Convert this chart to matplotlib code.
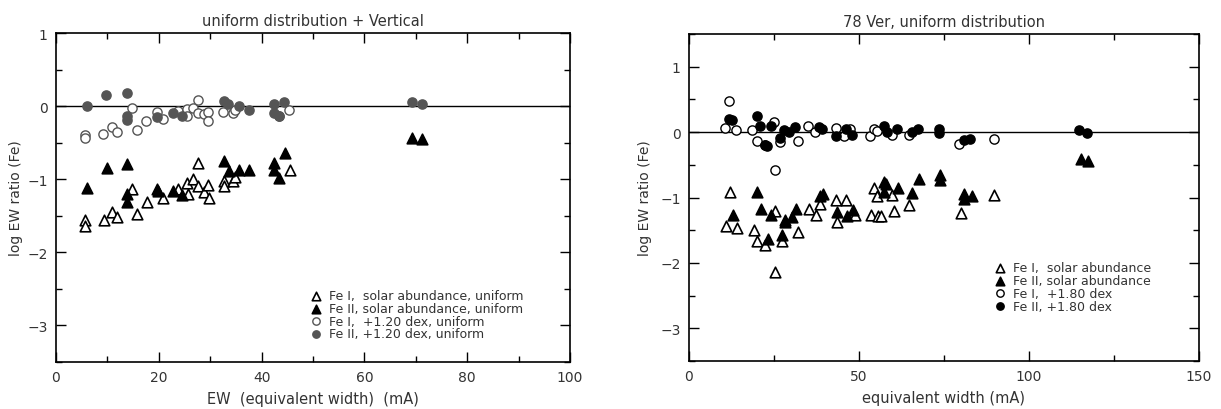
import matplotlib.pyplot as plt
from matplotlib.ticker import MultipleLocator

plt.rcParams['font.family'] = ['DejaVu Sans']

# left panel: uniform distribution + vertical
l_fe1_ew = [5.6, 5.6, 9.3, 10.8, 11.8, 14.8, 15.8, 17.8, 20.8, 23.7, 25.5, 26.6, 27.7, 27.7,
            25.7, 28.7, 29.6, 29.8, 32.6, 32.6, 34.5, 34.9, 45.5]
l_fe1_sol = [-1.56, -1.64, -1.56, -1.45, -1.52, -1.13, -1.47, -1.31, -1.26, -1.14, -1.05, -1.0,
             -0.78, -1.09, -1.2, -1.18, -1.08, -1.25, -1.03, -1.09, -1.02, -0.97, -0.87]
l_fe2_ew = [6.0, 9.9, 13.8, 13.8, 13.8, 19.7, 19.9, 22.7, 24.6, 32.6, 33.7, 35.6, 37.6,
            42.4, 42.4, 43.3, 44.6, 69.2, 71.3]
l_fe2_sol = [-1.12, -0.84, -0.79, -1.2, -1.31, -1.14, -1.16, -1.16, -1.21, -0.75, -0.89, -0.87,
             -0.87, -0.78, -0.87, -0.99, -0.64, -0.43, -0.45]
l_fe1_ew_hi = [5.6, 5.6, 9.2, 10.8, 11.8, 14.7, 15.7, 17.6, 19.6, 20.8, 23.8, 25.4, 25.5, 26.6,
               27.6, 27.6, 28.7, 29.6, 29.6, 32.4, 34.4, 34.9, 45.4]
l_fe1_hi = [-0.40, -0.44, -0.38, -0.28, -0.35, -0.02, -0.33, -0.21, -0.08, -0.17, -0.07, -0.04,
            -0.14, -0.02, 0.09, -0.10, -0.11, -0.08, -0.20, -0.08, -0.09, -0.05, -0.05]
l_fe2_ew_hi = [6.0, 9.7, 13.8, 13.8, 13.8, 19.6, 22.7, 24.6, 32.6, 33.5, 35.6, 37.5, 42.4, 42.4,
               43.3, 44.4, 43.4, 69.2, 71.2]
l_fe2_hi = [0.0, 0.15, 0.18, -0.13, -0.19, -0.15, -0.10, -0.14, 0.07, 0.03, 0.0, -0.05, 0.03,
            -0.09, -0.14, 0.05, -0.13, 0.06, 0.03]

# right panel: 78 Ver, uniform distribution
r_fe1_ew = [12.0, 11.0, 14.0, 19.1, 20.1, 22.3, 25.3, 25.3, 27.3, 32.2, 35.3, 37.3, 38.4, 43.3,
            43.4, 46.3, 48.7, 53.4, 54.4, 55.4, 55.6, 56.4, 60.3, 64.7, 59.8, 79.9, 89.7]
r_fe1_sol = [-0.91, -1.44, -1.46, -1.5, -1.66, -1.72, -1.2, -2.14, -1.66, -1.52, -1.17, -1.27,
             -1.1, -1.04, -1.38, -1.04, -1.27, -1.27, -0.85, -0.98, -1.28, -1.28, -1.2, -1.12,
             -0.96, -1.24, -0.96]
r_fe2_ew = [13.0, 20.1, 21.1, 24.0, 23.2, 27.3, 28.2, 28.2, 30.4, 31.4, 38.4, 39.5, 43.6, 46.6,
            48.3, 57.4, 57.4, 57.8, 61.6, 65.7, 67.6, 73.7, 73.7, 80.9, 80.9, 83.1, 115.2, 117.4]
r_fe2_sol = [-1.27, -0.92, -1.18, -1.27, -1.63, -1.58, -1.34, -1.38, -1.3, -1.17, -0.98, -0.95,
             -1.22, -1.28, -1.19, -0.77, -0.92, -0.8, -0.85, -0.93, -0.71, -0.66, -0.74, -0.95,
             -1.03, -0.97, -0.41, -0.44]
r_fe1_ew_hi = [11.8, 10.6, 13.9, 18.6, 20.1, 22.4, 25.0, 25.2, 26.9, 32.1, 35.1, 37.1, 43.1,
               45.6, 47.4, 53.2, 54.4, 55.4, 59.8, 64.7, 79.4, 89.7]
r_fe1_hi = [0.48, 0.07, 0.03, 0.03, -0.13, -0.2, 0.16, -0.58, -0.15, -0.13, 0.09, 0.0, 0.07,
            -0.06, 0.05, -0.06, 0.04, 0.01, -0.05, -0.04, -0.18, -0.10]
r_fe2_ew_hi = [11.8, 12.7, 19.9, 20.9, 23.0, 22.4, 24.0, 26.9, 27.9, 29.4, 31.2, 38.2, 39.2,
               43.1, 46.3, 48.0, 57.4, 58.3, 61.3, 65.7, 67.4, 73.5, 73.5, 80.9, 82.6, 114.7,
               117.2]
r_fe2_hi = [0.2, 0.18, 0.24, 0.10, -0.21, -0.19, 0.09, -0.09, 0.03, 0.0, 0.08, 0.08, 0.05,
            -0.06, 0.04, -0.04, 0.1, 0.0, 0.04, 0.0, 0.05, 0.04, -0.01, -0.12, -0.11, 0.03,
            -0.01]

W, H = 1221, 410
fig = plt.figure(figsize=(W / 100, H / 100), dpi=100)
ax1 = fig.add_axes([56 / W, (H - 363) / H, 514 / W, 329 / H])
ax2 = fig.add_axes([689 / W, (H - 362) / H, 510 / W, 327 / H])

tri = dict(marker='^', s=58, edgecolors='black', linewidths=1.2, zorder=3)
circ = dict(marker='o', s=44, edgecolors='black', linewidths=1.0, zorder=3)
grey = '#555555'
txt = '#333333'

ax1.scatter(l_fe1_ew, l_fe1_sol, facecolors='white', label='Fe I,  solar abundance, uniform', **tri)
ax1.scatter(l_fe2_ew, l_fe2_sol, facecolors='black', label='Fe II, solar abundance, uniform', **tri)
ax1.scatter(l_fe1_ew_hi, l_fe1_hi, facecolors='white', edgecolors=grey, linewidths=1.0,
            marker='o', s=44, zorder=3, label='Fe I,  +1.20 dex, uniform')
ax1.scatter(l_fe2_ew_hi, l_fe2_hi, facecolors=grey, edgecolors=grey, linewidths=1.0,
            marker='o', s=44, zorder=3, label='Fe II, +1.20 dex, uniform')

ax2.scatter(r_fe1_ew, r_fe1_sol, facecolors='white', label='Fe I,  solar abundance', **tri)
ax2.scatter(r_fe2_ew, r_fe2_sol, facecolors='black', label='Fe II, solar abundance', **tri)
ax2.scatter(r_fe1_ew_hi, r_fe1_hi, facecolors='white', label='Fe I,  +1.80 dex', **circ)
ax2.scatter(r_fe2_ew_hi, r_fe2_hi, facecolors='black', label='Fe II, +1.80 dex', **circ)

for ax in (ax1, ax2):
    ax.axhline(0, color='black', lw=1.0, zorder=2)
    ax.yaxis.set_major_locator(MultipleLocator(1))
    ax.yaxis.set_minor_locator(MultipleLocator(0.5))
    ax.tick_params(which='both', direction='in', top=True, right=True, labelsize=10,
                   color='black', width=1.0, labelcolor=txt, pad=6)
    ax.tick_params(which='major', length=7)
    ax.tick_params(which='minor', length=4)
    for sp in ax.spines.values():
        sp.set_linewidth(1.2)

ax1.set_ylabel('log EW ratio (Fe)', fontsize=10, color=txt, labelpad=3)
ax2.set_ylabel('log EW ratio (Fe)', fontsize=10, color=txt, labelpad=6)

ax1.set_xlim(0, 100)
ax1.set_ylim(-3.5, 1)
ax1.xaxis.set_major_locator(MultipleLocator(20))
ax1.xaxis.set_minor_locator(MultipleLocator(10))
ax1.set_xlabel('EW  (equivalent width)  (mA)', fontsize=10.5, color=txt, labelpad=5)
ax1.set_title('uniform distribution + Vertical', fontsize=10.5, color=txt, pad=6)

ax2.set_xlim(0, 150)
ax2.set_ylim(-3.5, 1.5)
ax2.xaxis.set_major_locator(MultipleLocator(50))
ax2.xaxis.set_minor_locator(MultipleLocator(25))
ax2.set_xlabel('equivalent width (mA)', fontsize=10.5, color=txt, labelpad=5)
ax2.set_title('78 Ver, uniform distribution', fontsize=10.5, color=txt, pad=6)

leg_kw = dict(frameon=False, fontsize=9, handlelength=0.8, handletextpad=0.6,
              labelspacing=-0.02, borderpad=0, scatterpoints=1, markerscale=0.8,
              labelcolor=txt)
ax1.legend(loc='upper left', bbox_to_anchor=(305 / W, (H - 284) / H),
           bbox_transform=fig.transFigure, **leg_kw)
ax2.legend(loc='upper left', bbox_to_anchor=(989 / W, (H - 256) / H),
           bbox_transform=fig.transFigure, **leg_kw)

fig.savefig('out.png', dpi=100)
